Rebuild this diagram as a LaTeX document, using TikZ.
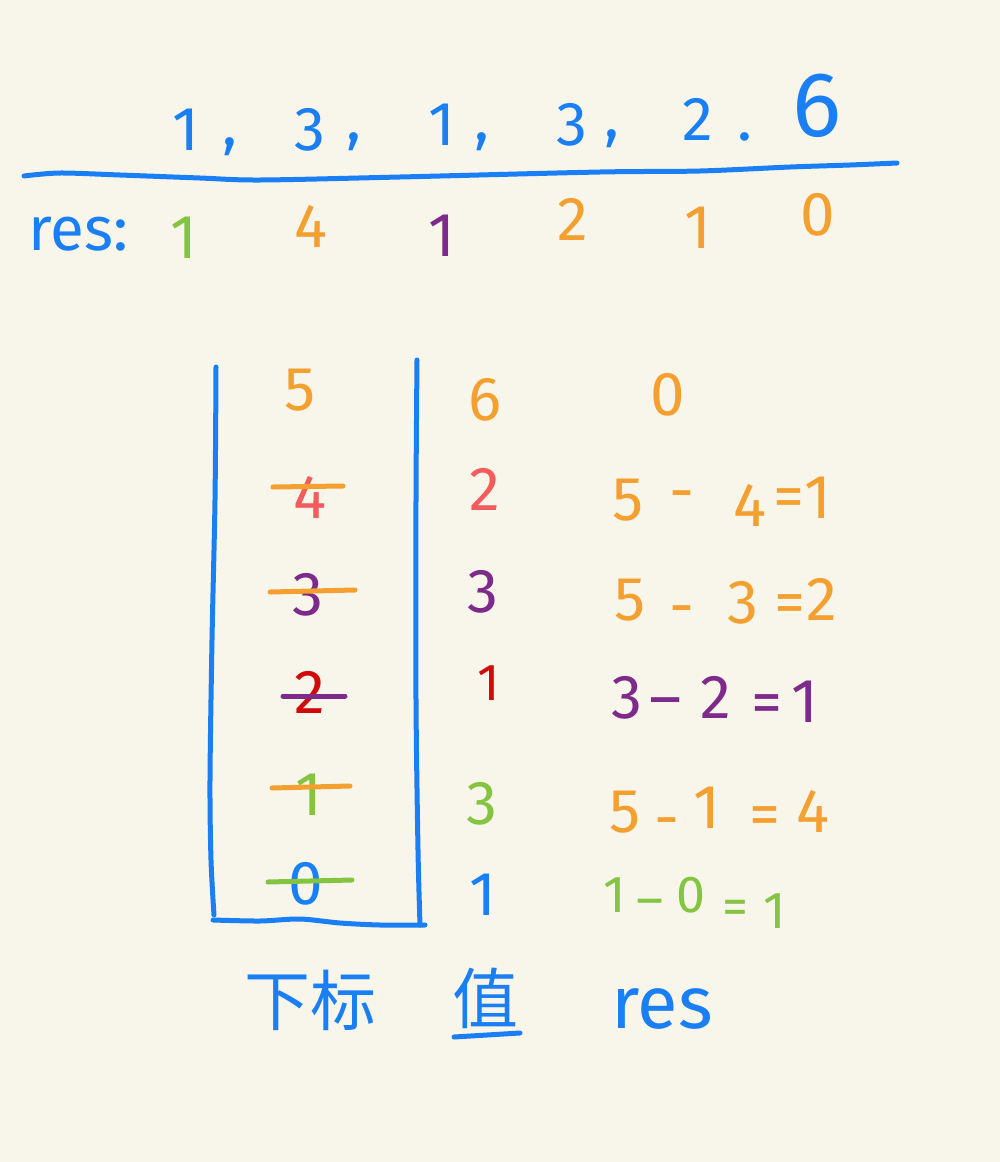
\documentclass[tikz,border=0pt]{standalone}
\usepackage{fontspec}
\setmainfont{Fira Sans}
\newfontfamily\cjkfont{Noto Sans CJK SC}
\definecolor{bgc}{HTML}{F8F6EA}
\definecolor{blu}{HTML}{1A7FF5}
\definecolor{org}{HTML}{F4A030}
\definecolor{grn}{HTML}{84C441}
\definecolor{pur}{HTML}{7D2A8A}
\definecolor{lred}{HTML}{F25C5C}
\definecolor{dred}{HTML}{D00A0A}
\tikzset{
  hw/.style={inner sep=0pt, anchor=base, font=\fontsize{62}{70}\selectfont},
  hws/.style={inner sep=0pt, anchor=base, font=\fontsize{52}{60}\selectfont},
  pen/.style={line width=5pt, line cap=round, line join=round},
}
\begin{document}
\begin{tikzpicture}[x=1pt,y=-1pt]
\useasboundingbox[fill=bgc] (0,0) rectangle (1000,1162);
% top row
\node[hw,text=blu] (a1) at (186,150) {1};
\node[hw,text=blu] (c1) at (230,145) {,};
\node[hw,text=blu] (a2) at (310,150) {3};
\node[hw,text=blu] (c2) at (354,140) {,};
\node[hw,text=blu] (a3) at (442,145) {1};
\node[hw,text=blu] (c3) at (482,140) {,};
\node[hw,text=blu] (a4) at (572,145) {3};
\node[hw,text=blu] (c4) at (612,137) {,};
\node[hw,text=blu] (a5) at (698,140) {2};
\node[hw,text=blu] (c5) at (745,140) {.};
\node[hw,text=blu,font=\fontsize{92}{96}\selectfont] (a6) at (817,136) {6};
\draw[pen,blu] plot[smooth] coordinates {(24,176) (60,173) (120,175) (200,178) (260,180) (400,177) (600,172) (700,171) (790,167) (850,165) (897,163)};
% res row
\node[hw,text=blu,anchor=base west] (reslbl) at (28,250) {res:};
\node[hw,text=grn] (r1) at (184,258) {1};
\node[hw,text=org] (r2) at (311,247) {4};
\node[hw,text=pur] (r3) at (442,256) {1};
\node[hw,text=org] (r4) at (573,240) {2};
\node[hw,text=org] (r5) at (698,248) {1};
\node[hw,text=org] (r6) at (818,235) {0};
% stack box
\draw[pen,blu] plot[smooth] coordinates {(216,367) (215,500) (212,640) (210,780) (211,860) (214,915)};
\draw[pen,blu] plot[smooth] coordinates {(417,360) (416,500) (416,700) (418,850) (420,925)};
\draw[pen,blu] plot[smooth] coordinates {(213,920) (260,921) (300,919) (340,923) (380,925) (425,925)};
% stack values
\node[hw,text=org] (s5) at (300,410) {5};
\node[hw,text=lred] (s4) at (310,518) {4};
\draw[pen,org] (273,487) -- (343,486);
\node[hw,text=pur] (s3) at (308,615) {3};
\draw[pen,org] (270,592) -- (355,590);
\node[hw,text=dred] (s2) at (310,713) {2};
\draw[pen,pur] (283,696) -- (345,696);
\node[hw,text=grn] (s1) at (309,815) {1};
\draw[pen,org] (272,788) -- (350,786);
\node[hw,text=blu] (s0) at (306,904) {0};
\draw[pen,grn] (268,882) -- (352,880);
% value column
\node[hw,text=org] (v1) at (485,420) {6};
\node[hw,text=lred] (v2) at (485,510) {2};
\node[hw,text=pur] (v3) at (483,612) {3};
\node[hws,text=dred] (v4) at (489,700) {1};
\node[hw,text=grn] (v5) at (482,824) {3};
\node[hw,text=blu] (v6) at (483,915) {1};
% res column
\node[hw,text=org] (e0) at (668,415) {0};
\node[hw,text=org] (e1a) at (628,520) {5};
\node[hw,text=org] (e1b) at (682,512) {-};
\node[hw,text=org] (e1c) at (750,526) {4};
\node[hw,text=org] (e1d) at (789,517) {=};
\node[hw,text=org] (e1e) at (818,518) {1};
\node[hw,text=org] (e2a) at (630,620) {5};
\node[hw,text=org] (e2b) at (682,627) {-};
\node[hw,text=org] (e2c) at (743,623) {3};
\node[hw,text=org] (e2d) at (790,623) {=};
\node[hw,text=org] (e2e) at (822,620) {2};
\node[hw,text=pur] (e3a) at (627,718) {3};
\node[hw,text=pur] (e3b) at (666,719) {–};
\node[hw,text=pur] (e3c) at (716,718) {2};
\node[hw,text=pur] (e3d) at (767,723) {=};
\node[hw,text=pur] (e3e) at (805,722) {1};
\node[hw,text=org] (e4a) at (625,832) {5};
\node[hw,text=org] (e4b) at (667,839) {-};
\node[hw,text=org] (e4c) at (707,828) {1};
\node[hw,text=org] (e4d) at (765,835) {=};
\node[hw,text=org] (e4e) at (813,832) {4};
\node[hws,text=grn] (e5a) at (615,912) {1};
\node[hws,text=grn] (e5b) at (650,917) {–};
\node[hws,text=grn] (e5c) at (691,912) {0};
\node[hws,text=grn] (e5d) at (735,924) {=};
\node[hws,text=grn] (e5e) at (775,928) {1};
% bottom labels
\node[text=blu,inner sep=0pt,font=\fontsize{66}{70}\cjkfont] (lbl1) at (310,1000) {下标};
\node[text=blu,inner sep=0pt,font=\fontsize{66}{70}\cjkfont] (lbl2) at (485,998) {值};
\draw[pen,blu] (454,1037) -- (520,1033);
\node[hw,text=blu,font=\fontsize{74}{80}\selectfont] (lbl3) at (662,1028) {res};
\end{tikzpicture}
\end{document}
